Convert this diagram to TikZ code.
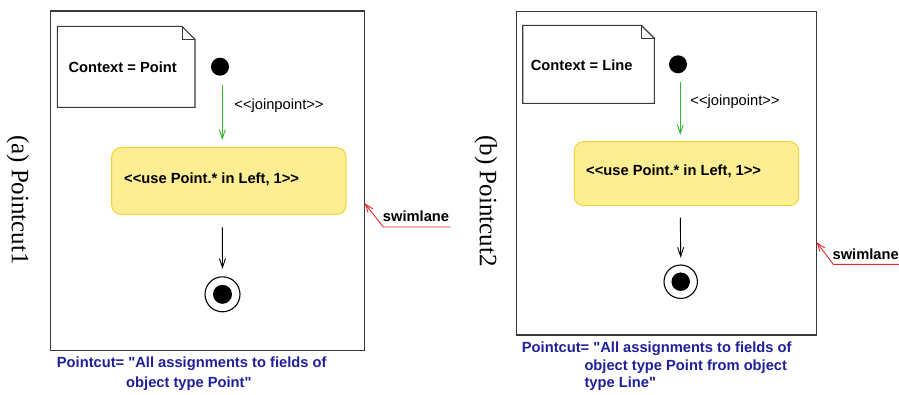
\documentclass[tikz,border=0pt]{standalone}
\usepackage{fontspec}
\setmainfont{Liberation Sans}[Ligatures=TeXOff]
\newfontfamily\seriff{Liberation Serif}[Ligatures=TeXOff]
\usetikzlibrary{arrows.meta,calc}
\definecolor{actfill}{HTML}{FDEE94}
\definecolor{actdraw}{HTML}{F5D238}
\definecolor{jpgreen}{HTML}{30B830}
\definecolor{swred}{HTML}{E8262B}
\definecolor{pcblue}{HTML}{1F1F99}
\definecolor{framegray}{HTML}{3A3A3A}
\tikzset{
  txt/.style={inner sep=0pt,font=\fontsize{14.7}{17}\selectfont},
  btxt/.style={txt,font=\fontsize{14.7}{17}\selectfont\bfseries},
  framebox/.style={draw=framegray,line width=1.2pt},
  notebox/.style={draw=framegray,line width=1.1pt,fill=white},
  actbox/.style={draw=actdraw,fill=actfill,line width=1pt,rounded corners=9pt},
  initdot/.style={circle,fill=black,inner sep=0pt,minimum size=18pt},
  finring/.style={circle,draw=black,line width=1.1pt,fill=white,inner sep=0pt},
  findot/.style={circle,fill=black,inner sep=0pt,minimum size=19pt},
  greenflow/.style={draw=jpgreen,line width=0.9pt,-{Straight Barb[length=9pt,width=6pt]}},
  blackflow/.style={draw=black,line width=0.9pt,-{Straight Barb[length=9pt,width=6pt]}},
  swarrow/.style={draw=swred,line width=0.9pt,-{Straight Barb[length=8pt,width=6pt]}},
  pctxt/.style={inner sep=0pt,align=left,text=pcblue,anchor=north west},
  sidelabel/.style={inner sep=0pt,rotate=-90,font=\seriff\fontsize{25}{25}\selectfont},
}
\begin{document}
\begin{tikzpicture}[x=1pt,y=-1pt]
\useasboundingbox (0,0) rectangle (899,394);

% ---------- panel (a) ----------
\node[sidelabel] (lblA) at (18,200) {(a) Pointcut1};
\draw[framebox] (50.7,11) rectangle (364.7,350.7);
\coordinate (frA) at (364.7,203.3);
\draw[notebox] (57.3,26.3) -- (182,26.3) -- (195,39.3) -- (195,107.3) -- (57.3,107.3) -- cycle;
\draw[framegray,line width=1pt] (182,26.3) -- (182,39.3) -- (195,39.3);
\node[btxt] (ctxA) at (122.7,67.7) {Context = Point};
\node[initdot] (iniA) at (220,66.7) {};
\draw[actbox] (111.7,147.7) rectangle (346,214.3);
\coordinate (actAn) at (222.3,147.7);
\coordinate (actAs) at (222.3,214.3);
\node[btxt,anchor=west] (actA) at (124,179.3) {<<use Point.* in Left, 1>>};
\node[finring,minimum size=35pt] (finA) at (222.5,294.3) {};
\node[findot] (findA) at (finA.center) {};
\draw[greenflow] ($(iniA.south)+(2.3,9.3)$) -- ($(actAn)+(0,-7.7)$);
\node[txt] (jpA) at (279,105.7) {<<joinpoint>>};
\draw[blackflow] ($(actAs)+(0,13)$) -- ($(finA.north)+(0,-7.3)$);
\coordinate (swA1) at (383.3,227);
\coordinate (swA2) at (450.7,227);
\draw[swarrow] (swA2) -- (swA1) -- (frA);
\node[btxt] (swlA) at (416,216.3) {swimlane};
\node[pctxt,font=\fontsize{14.7}{19.3}\selectfont\bfseries] (pcA) at (56.7,357) {Pointcut= "All assignments to fields of\\\hspace*{69.3pt}object type Point"};

% ---------- panel (b) ----------
\node[sidelabel] (lblB) at (486,201) {(b) Pointcut2};
\draw[framebox] (516.3,11.3) rectangle (816.7,335);
\coordinate (frB) at (816.7,242.3);
\draw[notebox] (522.7,25.3) -- (641.3,25.3) -- (654.3,38.3) -- (654.3,103.3) -- (522.7,103.3) -- cycle;
\draw[framegray,line width=1pt] (641.3,25.3) -- (641.3,38.3) -- (654.3,38.3);
\node[btxt] (ctxB) at (581.7,65) {Context = Line};
\node[initdot] (iniB) at (678,64.3) {};
\draw[actbox] (574.3,141.7) rectangle (798.7,205.7);
\coordinate (actBn) at (680.3,141.7);
\coordinate (actBs) at (680.3,205.7);
\node[btxt,anchor=west] (actB) at (586,171.7) {<<use Point.* in Left, 1>>};
\node[finring,minimum size=33.4pt] (finB) at (680.7,281.7) {};
\node[findot,minimum size=18.5pt] (findB) at (finB.center) {};
\draw[greenflow] ($(iniB.south)+(2.3,8.4)$) -- ($(actBn)+(0,-6.7)$);
\node[txt] (jpB) at (735,101.7) {<<joinpoint>>};
\draw[blackflow] ($(actBs)+(0,12)$) -- ($(finB.north)+(0,-6.7)$);
\coordinate (swB1) at (833.3,264.3);
\coordinate (swB2) at (899,264.3);
\draw[swarrow] (swB2) -- (swB1) -- (frB);
\node[btxt] (swlB) at (865.7,254.3) {swimlane};
\node[pctxt,font=\fontsize{14.7}{17.8}\selectfont\bfseries] (pcB) at (521.7,341.5) {Pointcut= "All assignments to fields of\\\hspace*{62.6pt}object type Point from object\\\hspace*{62.6pt}type Line"};
\end{tikzpicture}
\end{document}
